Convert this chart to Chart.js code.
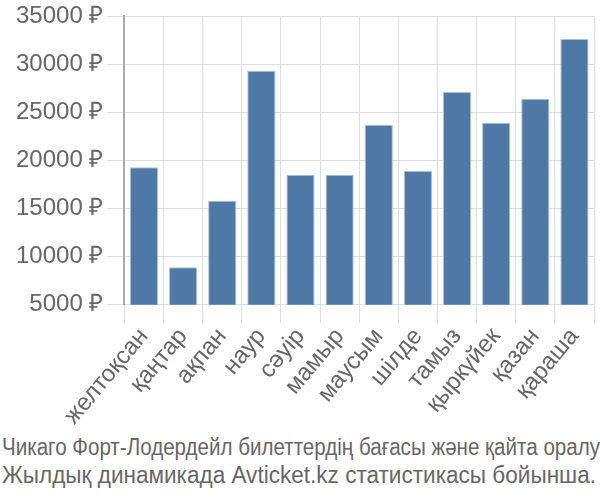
<!DOCTYPE html>
<html>
<head>
<meta charset="utf-8">
<script src="https://cdn.jsdelivr.net/npm/chart.js@4/dist/chart.umd.min.js"></script>
<style>
  html, body { margin: 0; padding: 0; background: #fff; }
  #wrap { position: relative; width: 600px; height: 500px; }
  #priceChart { position: absolute; left: 0; top: 0; }
  .cap { position: absolute; left: 2px; white-space: nowrap; color: #666;
         font-family: 'Liberation Sans', Arial, sans-serif; font-size: 23px; line-height: 28px;
         transform-origin: 0 0; }
</style>
</head>
<body>
<div id="wrap">
  <canvas id="priceChart" width="600" height="430"></canvas>
  <div class="cap" id="cap1" style="top:433px"></div>
  <div class="cap" id="cap2" style="top:461px"></div>
</div>
<script>
    const months = ['желтоқсан','қаңтар','ақпан','наур','сәуір','мамыр','маусым','шілде','тамыз','қыркүйек','қазан','қараша'];
    const prices = [19300, 8900, 15800, 29300, 18500, 18500, 23700, 18900, 27100, 23900, 26400, 32600];
    const yTicks = [5000, 10000, 15000, 20000, 25000, 30000, 35000];
    const caption = ['Чикаго Форт-Лодердейл билеттердің бағасы және қайта оралу', 'Жылдық динамикада Avticket.kz статистикасы бойынша.'];
    const captionWidths = [598, 594];

    // caption lines (narrow font squeezed to width)
    ['cap1', 'cap2'].forEach((id, i) => {
      const el = document.getElementById(id);
      el.textContent = caption[i];
      const w = el.getBoundingClientRect().width;
      el.style.transform = 'scaleX(' + (captionWidths[i] / w) + ')';
    });

    // config
    const config = {
      type: 'bar',
      data: {
        labels: months,
        datasets: [{
          data: prices,
          backgroundColor: '#4e79a7',
          borderColor: '#a9c0dc',
          borderWidth: 1
        }]
      },
      options: {
        responsive: false,
        animation: false,
        layout: { padding: { left: 12, right: 6, top: 0, bottom: 0 } },
        plugins: {
          legend: { display: false },
          tooltip: { enabled: false }
        },
        scales: {
          x: {
            grid: { color: '#dddddd', offset: true, tickLength: 18 },
            border: { color: '#dddddd' },
            ticks: {
              color: '#666',
              font: { family: 'Liberation Sans', size: 24 },
              maxRotation: 50, minRotation: 50,
              autoSkip: false,
              padding: 0
            }
          },
          y: {
            min: 5000,
            max: 35000,
            afterBuildTicks: (axis) => { axis.ticks = yTicks.map(v => ({ value: v })); },
            grid: { color: '#dddddd', tickLength: 17 },
            border: { color: '#aaaaaa', width: 2 },
            ticks: {
              color: '#666',
              font: { family: 'Liberation Sans', size: 24, lineHeight: 1 },
              padding: 4,
              callback: (v) => v + ' ₽'
            }
          }
        }
      }
    };

    // render init block
    const priceChart = new Chart(document.getElementById('priceChart'), config);
</script>
</body>
</html>
